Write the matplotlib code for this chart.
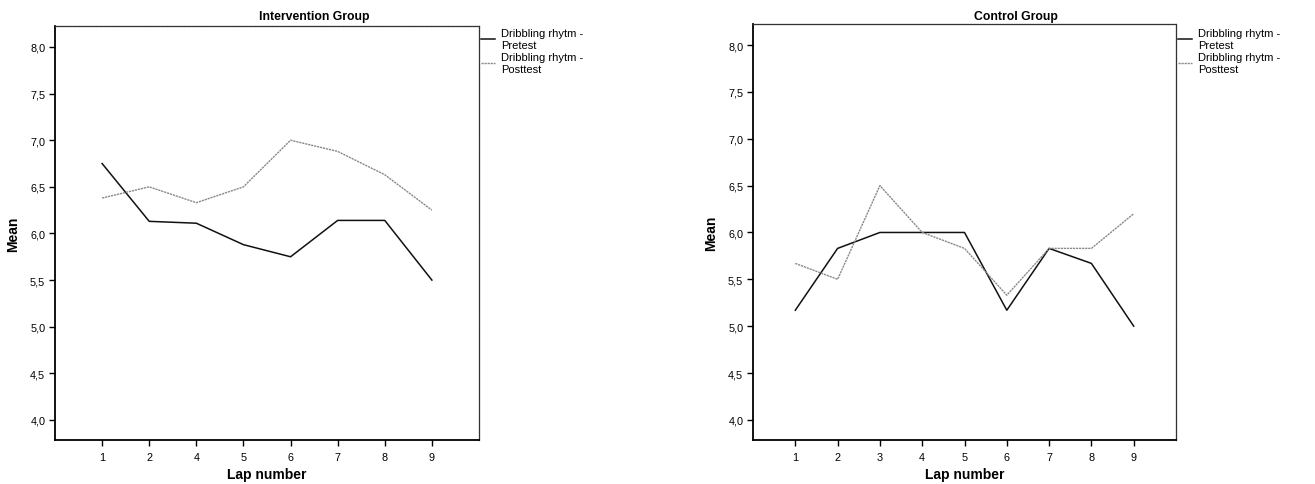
import matplotlib
matplotlib.use("Agg")
import matplotlib.pyplot as plt
from matplotlib.ticker import FuncFormatter

plt.rcParams['font.family'] = ['Liberation Sans', 'DejaVu Sans']

# Intervention group (laps 1,2,4..9)
int_laps = ["1", "2", "4", "5", "6", "7", "8", "9"]
int_pre = [6.75, 6.13, 6.11, 5.88, 5.75, 6.14, 6.14, 5.50]
int_post = [6.38, 6.50, 6.33, 6.50, 7.00, 6.88, 6.63, 6.25]

# Control group (laps 1..9)
ctl_laps = ["1", "2", "3", "4", "5", "6", "7", "8", "9"]
ctl_pre = [5.17, 5.83, 6.00, 6.00, 6.00, 5.17, 5.83, 5.67, 5.00]
ctl_post = [5.67, 5.50, 6.50, 6.00, 5.83, 5.33, 5.83, 5.83, 6.20]

yticks = [4.0, 4.5, 5.0, 5.5, 6.0, 6.5, 7.0, 7.5, 8.0]
legend_labels = ["Dribbling rhytm -\nPretest", "Dribbling rhytm -\nPosttest"]

W, H = 1315, 485
fig = plt.figure(figsize=(W / 100, H / 100), dpi=100)


def px(x0, y0, x1, y1):
    return [x0 / W, 1 - y1 / H, (x1 - x0) / W, (y1 - y0) / H]


def panel(rect, laps, pre, post, title, title_x, leg_x):
    ax = fig.add_axes(rect)
    xs = list(range(len(laps)))
    l1, = ax.plot(xs, pre, color="#111111", lw=1.1)
    l2, = ax.plot(xs, post, color="#8a8a8a", lw=1.0, ls=(0, (1.6, 0.6)))
    ax.set_xlim(-1, len(laps))
    ax.set_ylim(3.785, 8.225)
    ax.set_xticks(xs)
    ax.set_xticklabels(laps)
    ax.set_yticks(yticks)
    ax.yaxis.set_major_formatter(FuncFormatter(lambda v, p: f"{v:.1f}".replace(".", ",")))
    ax.tick_params(labelsize=7.8, length=4, width=1, direction="out", pad=3)
    ax.tick_params(axis="x", pad=5)
    for s in ["left", "bottom"]:
        ax.spines[s].set_linewidth(1.3)
    for s in ["top", "right"]:
        ax.spines[s].set_linewidth(0.9)
        ax.spines[s].set_linestyle((0, (1.5, 0.7)))
        ax.spines[s].set_color("#333333")
    ax.set_xlabel("Lap number", fontsize=10, fontweight="bold", labelpad=3)
    ax.set_ylabel("Mean", fontsize=10, fontweight="bold", labelpad=7)
    fig.text(title_x / W, 1 - 17 / H, title, fontsize=8.8, fontweight="bold",
             ha="center", va="center")
    fig.legend([l1, l2], legend_labels, loc="upper left",
               bbox_to_anchor=(leg_x / W, 1 - 29 / H), frameon=False,
               fontsize=8, handlelength=1.3, handletextpad=0.5,
               labelspacing=0.25, borderaxespad=0, borderpad=0)
    return ax


panel(px(55, 27, 479, 441), int_laps, int_pre, int_post, "Intervention Group", 314, 481)
panel(px(753, 25, 1176, 441), ctl_laps, ctl_pre, ctl_post, "Control Group", 1016, 1178)

fig.savefig("out.png", dpi=100)
